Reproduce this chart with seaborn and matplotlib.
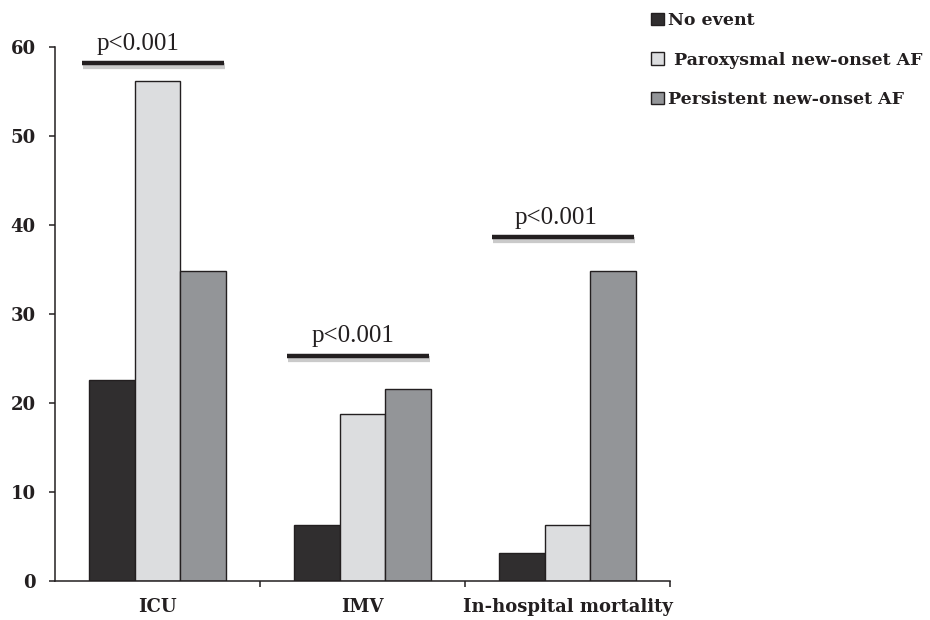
import matplotlib
matplotlib.use("Agg")
import matplotlib.pyplot as plt
import matplotlib.patheffects as pe
from matplotlib.ticker import FixedLocator
import numpy as np
import pandas as pd
import seaborn as sns

# Outcomes and event groups
outcomes = ["ICU", "IMV", "In-hospital mortality"]
groups = ["No event", " Paroxysmal new-onset AF", "Persistent new-onset AF"]
no_event = [22.6, 6.3, 3.1]
paroxysmal = [56.2, 18.8, 6.3]
persistent = [34.8, 21.6, 34.8]
y_ticks = [0, 10, 20, 30, 40, 50, 60]

# Significance brackets: label and bracket height per outcome
p_labels = ["p<0.001", "p<0.001", "p<0.001"]
bracket_heights = [58.2, 25.3, 38.6]

colors = ["#302e2f", "#dcdddf", "#939598"]
ink = "#231f20"

df = pd.DataFrame({
    "outcome": np.repeat(outcomes, len(groups)),
    "group": groups * len(outcomes),
    "value": np.ravel(np.column_stack([no_event, paroxysmal, persistent])),
})

sns.set_theme(style="white")
plt.rcParams["font.family"] = ["DejaVu Serif"]

fig = plt.figure(figsize=(9.3, 6.2), dpi=100)
ax = fig.add_axes([55 / 930, 39 / 620, 615 / 930, 534 / 620])

sns.barplot(data=df, x="outcome", y="value", hue="group", order=outcomes,
            hue_order=groups, palette=colors, width=0.665, gap=0,
            edgecolor=ink, linewidth=1.0, saturation=1, ax=ax)

ax.set_xlim(-0.5, 2.5)
ax.set_ylim(0, 60)
ax.set_yticks(y_ticks)
ax.set_xlabel("")
ax.set_ylabel("")

for side in ("top", "right"):
    ax.spines[side].set_visible(False)
for side in ("left", "bottom"):
    ax.spines[side].set_color(ink)
    ax.spines[side].set_linewidth(1.1)

ax.tick_params(axis="y", direction="out", length=4, width=1.1, color=ink,
               pad=10, labelsize=13, labelcolor=ink, left=True)
ax.tick_params(axis="x", which="major", length=0, pad=12, labelsize=13,
               labelcolor=ink)
ax.xaxis.set_minor_locator(FixedLocator([0.5, 1.5, 2.5]))
ax.tick_params(axis="x", which="minor", direction="out", length=4, width=1.1,
               color=ink, bottom=True)
for lab in ax.get_xticklabels() + ax.get_yticklabels():
    lab.set_fontweight("bold")

# Significance bars with a soft drop shadow and p-value labels
shadow = [pe.SimpleLineShadow(offset=(0.8, -2.0), shadow_color="#8a8a8a",
                              alpha=0.45, linewidth=4.5), pe.Normal()]
label_shift = [-0.07, -0.02, -0.03]
for i, (lab, h) in enumerate(zip(p_labels, bracket_heights)):
    ax.plot([i - 0.37, i + 0.325], [h, h], color=ink, lw=3.2,
            solid_capstyle="butt", path_effects=shadow, zorder=4)
    ax.text(i - 0.025 + label_shift[i], h + 1.5, lab, ha="center",
            va="baseline", fontsize=18, family=["Liberation Serif"],
            color=ink)

handles, labels = ax.get_legend_handles_labels()
ax.get_legend().remove()
fig.legend(handles, labels, loc="upper left",
           bbox_to_anchor=(651 / 930, 1 - 12 / 620), frameon=False,
           borderpad=0, borderaxespad=0,
           handlelength=0.75, handleheight=0.75, handletextpad=0.25,
           labelspacing=1.3,
           prop={"family": "DejaVu Serif", "weight": "bold", "size": 12.5},
           labelcolor=ink)

fig.savefig("out.png", dpi=100, facecolor="white")
